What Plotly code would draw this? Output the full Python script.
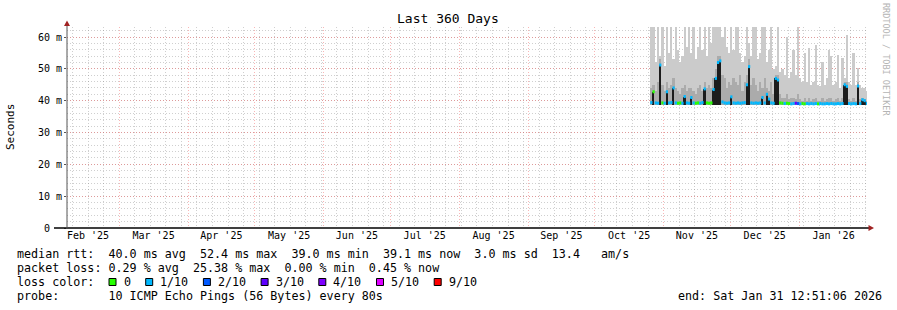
import plotly.graph_objects as go
import pandas as pd

# ---------------- data (values in milliseconds) ----------------
bin_dates = pd.date_range("2025-10-26 12:00", periods=98, freq="D")

# upper edge of light smoke (max ping)
hi_ms = [63.5, 63.5, 52, 63.5, 54, 63.5, 51, 63.5, 55, 63.5,
         53, 63.5, 56, 52, 54, 63.5, 57, 63.5, 55, 63.5,
         53, 57, 63.5, 56, 63.5, 54, 63.5, 58, 63.5, 63.5,
         63.5, 63.5, 60, 63.5, 57, 55, 63.5, 56, 63.5, 63.5,
         55, 52, 54, 63.5, 58, 54, 63.5, 63.5, 53, 55,
         63.5, 63.5, 52, 56, 63.5, 50, 51, 63.5, 49, 50,
         48, 60, 47, 49, 56, 48, 63.5, 47, 46, 55,
         46, 56.5, 45, 46, 57.5, 45, 44.5, 52, 45, 47,
         56, 54, 45, 46, 54.3, 44, 53.4, 47, 60.6, 46,
         45, 55, 45, 50.3, 45, 44, 44, 43]

# upper edge of darker smoke
mid_ms = [44, 45, 43, 46, 53, 45, 43, 46, 44, 45,
          47, 44, 43, 42, 44, 45, 43, 44, 44, 43,
          42, 44, 45, 43, 46, 44, 45, 44, 47, 50,
          54, 54, 48, 47, 44, 46, 45, 47, 46, 45,
          48, 43, 46, 48, 53, 45, 47, 45, 43, 46,
          44, 47, 44, 43, 46, 42, 48, 48, 42, 41,
          41, 42, 40.5, 41, 41, 40.5, 42, 40.5, 40, 41,
          40, 41, 40, 40.5, 41, 40, 40, 41, 40, 40.5,
          41, 41, 40, 40.5, 41, 40, 41, 46, 46, 40.5,
          40, 41, 40, 46, 40.5, 41, 40.5, 40]

# lower edge of smoke (min ping)
lo_ms = [38.8, 38.7, 38.8, 38.8, 38.7, 38.8, 38.8, 38.7, 38.8, 38.8,
         38.7, 38.8, 38.8, 38.8, 38.7, 38.8, 38.8, 38.7, 38.8, 38.8,
         38.8, 38.7, 38.8, 38.8, 38.7, 38.8, 38.8, 38.8, 38.7, 38.8,
         38.8, 38.8, 38.7, 38.8, 38.8, 38.7, 38.8, 38.8, 38.8, 38.7,
         38.8, 38.8, 38.7, 38.8, 38.8, 38.8, 38.7, 38.8, 38.8, 38.7,
         38.8, 38.8, 38.8, 38.7, 38.8, 38.8, 38.7, 38.8, 38.8, 38.8,
         38.6, 38.7, 38.6, 38.6, 38.7, 38.6, 38.6, 38.6, 38.7, 38.6,
         38.6, 38.6, 38.7, 38.6, 38.6, 38.6, 38.7, 38.6, 38.6, 38.6,
         38.7, 38.6, 38.6, 38.6, 38.7, 38.6, 38.6, 38.6, 38.7, 38.6,
         38.6, 38.6, 38.7, 38.6, 38.6, 38.7, 38.6, 38.6]

# median rtt
med_ms = [39.4, 42.8, 39.3, 39.2, 51.2, 39.3, 39.2, 42.8, 39.3, 39.4,
          44.0, 39.3, 39.2, 39.3, 39.2, 41.3, 39.3, 39.2, 41.0, 39.3,
          39.2, 39.3, 39.2, 39.4, 43.7, 39.3, 39.2, 39.3, 43.5, 47.0,
          52.0, 52.5, 39.6, 39.3, 39.2, 39.3, 41.2, 39.3, 39.2, 39.3,
          39.2, 39.3, 39.4, 45.0, 50.7, 39.3, 39.2, 39.3, 39.2, 39.3,
          41.0, 39.3, 42.0, 40.5, 39.3, 39.2, 47.0, 46.5, 39.3, 39.2,
          39.1, 39.2, 39.1, 39.0, 39.1, 39.2, 39.1, 39.0, 39.1, 39.0,
          39.1, 39.0, 39.1, 39.0, 39.1, 39.0, 39.1, 39.0, 39.0, 39.1,
          39.0, 39.1, 39.0, 39.0, 39.1, 39.0, 39.1, 45.0, 44.5, 39.1,
          39.0, 39.1, 39.0, 44.6, 39.1, 40.3, 40.0, 39.1]

# lost pings out of 10
loss = [1, 0, 1, 1, 1, 0, 1, 1, 1, 1,
        1, 1, 0, 0, 1, 1, 1, 1, 1, 1,
        0, 0, 1, 1, 1, 0, 0, 0, 1, 1,
        1, 1, 1, 1, 1, 1, 1, 1, 1, 1,
        1, 1, 1, 1, 1, 1, 1, 1, 1, 1,
        1, 1, 1, 1, 1, 1, 1, 1, 0, 0,
        1, 0, 0, 1, 1, 3, 2, 1, 0, 0,
        1, 1, 1, 1, 1, 0, 1, 1, 1, 1,
        1, 1, 1, 1, 1, 1, 1, 1, 1, 1,
        1, 1, 1, 1, 1, 1, 1, 1]

loss_levels = [0, 1, 2, 3, 4, 5, 9]
loss_labels = ["0", "1/10", "2/10", "3/10", "4/10", "5/10", "9/10"]
loss_colors = ["#26ff00", "#00b8ff", "#0059ff", "#5e00ff", "#7e00ff", "#dd00ff", "#ff0000"]

y_tickvals_ms = [0, 10, 20, 30, 40, 50, 60]
y_ticktext = ["0  ", "10 m", "20 m", "30 m", "40 m", "50 m", "60 m"]

title_text = "Last 360 Days"
range_start = "2025-02-05 12:51:06"
range_end = "2026-01-31 12:51:06"

legend_rows = [
    "median rtt:  40.0 ms avg  52.4 ms max  39.0 ms min  39.1 ms now  3.0 ms sd  13.4   am/s",
    "packet loss: 0.29 % avg  25.38 % max  0.00 % min  0.45 % now",
]
probe_text = "probe:       10 ICMP Echo Pings (56 Bytes) every 80s"
end_text = "end: Sat Jan 31 12:51:06 2026"

# ---------------- layout geometry ----------------
W, H = 897, 310
PL, PR, PT, PB = 67, 867, 27, 228
FONT = "DejaVu Sans Mono"
DAY = 86400000


def px(x):
    return (x - PL) / (PR - PL)


def py(y):
    return (PB - y) / (PB - PT)


def nb(s):
    return s.replace(" ", "\u00a0")


s = lambda v: [a / 1000.0 for a in v]
hi, mid, lo, med = s(hi_ms), s(mid_ms), s(lo_ms), s(med_ms)

fig = go.Figure()

# light smoke
fig.add_trace(go.Bar(x=bin_dates, y=[h - l for h, l in zip(hi, lo)], base=lo,
                     width=DAY, marker=dict(color="#cbcbcb", line=dict(width=0)),
                     hoverinfo="skip", showlegend=False))
# darker smoke
fig.add_trace(go.Bar(x=bin_dates, y=[m - l for m, l in zip(mid, lo)], base=lo,
                     width=DAY, marker=dict(color="#ababab", line=dict(width=0)),
                     hoverinfo="skip", showlegend=False))
# dark core where the median climbs
sp_x = [d for d, m, l in zip(bin_dates, med, lo) if m - l > 0.0012]
sp_y = [m - l for m, l in zip(med, lo) if m - l > 0.0012]
sp_b = [l for m, l in zip(med, lo) if m - l > 0.0012]
fig.add_trace(go.Bar(x=sp_x, y=sp_y, base=sp_b, width=DAY * 0.75,
                     marker=dict(color="#1c1c1c", line=dict(width=0)),
                     hoverinfo="skip", showlegend=False))

# median, coloured by loss
half = pd.Timedelta(hours=12)
for lev, col in zip(loss_levels, loss_colors):
    xs, ys = [], []
    for d, m, ls in zip(bin_dates, med, loss):
        if ls == lev:
            xs += [d - half, d + half, None]
            ys += [m, m, None]
    if xs:
        fig.add_trace(go.Scatter(x=xs, y=ys, mode="lines",
                                 line=dict(color=col, width=3),
                                 hoverinfo="skip", showlegend=False))

grid_major = "rgba(240,80,80,0.42)"
grid_minor = "rgba(130,130,130,0.38)"

fig.update_layout(
    width=W, height=H, autosize=False,
    margin=dict(l=PL, r=W - PR, t=PT, b=H - PB, pad=0),
    paper_bgcolor="white", plot_bgcolor="white",
    barmode="overlay", bargap=0,
    font=dict(family=FONT, size=10, color="#000"),
    xaxis=dict(type="date", range=[range_start, range_end],
               dtick="M1", tick0="2025-01-01", tickformat="%b '%y",
               ticklabelmode="period", ticks="", showline=False, zeroline=False,
               showgrid=True, gridcolor=grid_major, griddash="1px,2px", gridwidth=1,
               tickfont=dict(family=FONT, size=10, color="#000"),
               minor=dict(dtick=7 * DAY, tick0="2025-02-08", showgrid=True,
                          gridcolor=grid_minor, griddash="1px,2px", gridwidth=1),
               fixedrange=True),
    yaxis=dict(range=[0, (PB - PT) / 3.183 / 1000.0],
               tickvals=[v / 1000.0 for v in y_tickvals_ms],
               ticktext=[nb(t) for t in y_ticktext],
               ticks="outside", ticklen=2, tickcolor="#555",
               showline=False, zeroline=False,
               showgrid=True, gridcolor=grid_major, griddash="1px,2px", gridwidth=1,
               tickfont=dict(family=FONT, size=10, color="#000"),
               minor=dict(dtick=0.002, showgrid=True, gridcolor=grid_minor,
                          griddash="1px,2px", gridwidth=1),
               fixedrange=True),
)

shapes = []
# axes lines
shapes.append(dict(type="line", xref="paper", yref="paper", x0=px(54), x1=px(869),
                   y0=0, y1=0, line=dict(color="#000", width=1.5), layer="above"))
shapes.append(dict(type="line", xref="paper", yref="paper", x0=0, x1=0,
                   y0=0, y1=py(24), line=dict(color="#555", width=1), layer="above"))
arrow_col = "#a02222"
shapes.append(dict(type="path", xref="paper", yref="paper", layer="above",
                   path=f"M {px(64)},{py(26)} L {px(67)},{py(20.5)} L {px(70)},{py(26)} Z",
                   fillcolor=arrow_col, line=dict(width=0)))
shapes.append(dict(type="path", xref="paper", yref="paper", layer="above",
                   path=f"M {px(868.5)},{py(225)} L {px(874)},{py(228)} L {px(868.5)},{py(231)} Z",
                   fillcolor=arrow_col, line=dict(width=0)))

annotations = []


def txt(x, y, t, size=11.7, anchor="left", color="#000", angle=0, yanchor="middle"):
    annotations.append(dict(xref="paper", yref="paper", x=px(x), y=py(y), text=nb(t),
                            showarrow=False, xanchor=anchor, yanchor=yanchor,
                            textangle=angle, borderpad=0,
                            font=dict(family=FONT, size=size, color=color)))


txt(448, 19, title_text, size=13, anchor="center")
txt(11, 127, "Seconds", size=11, anchor="center", angle=-90)
txt(886, 59, "RRDTOOL / TOBI OETIKER", size=8.5, anchor="center", color="#b4b4b4", angle=90)

row_y = [254, 268, 282, 296]
txt(16, row_y[0], legend_rows[0])
txt(16, row_y[1], legend_rows[1])
txt(16, row_y[2], "loss color:")
txt(16, row_y[3], probe_text)
txt(677, row_y[3], end_text)

# loss colour legend boxes
sx = 109.0
for lab, col in zip(loss_labels, loss_colors):
    shapes.append(dict(type="rect", xref="paper", yref="paper",
                       x0=px(sx), x1=px(sx + 7), y0=py(278.5), y1=py(285.5),
                       fillcolor=col, line=dict(color="#000", width=1)))
    txt(sx + 13.5, row_y[2], lab)
    sx = sx + 14 + len(lab) * 7 + 15.7

fig.update_layout(shapes=shapes, annotations=annotations)
fig.write_html("out.html")
